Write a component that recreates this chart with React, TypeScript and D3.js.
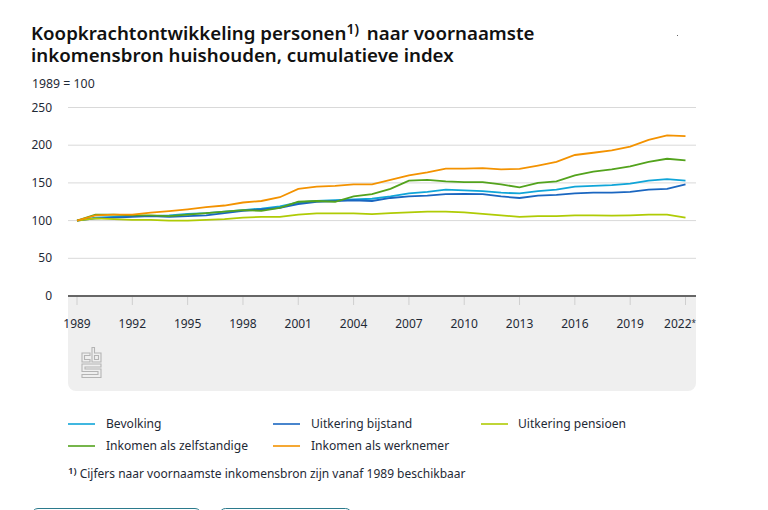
import React from "react";
import * as d3 from "d3";

const years = d3.range(1989, 2023);
const bevolking = [100,104,105,106,106,107,109,110,112,114,116,119,124,126,127,128,129,132,136,138,141,140,139,137,136,139,141,145,146,147,149,153,155,153];
const bijstand = [100,103,104,105,106,105,106,107,110,113,115,117,122,125,126,127,126,130,132,133,135,135.5,135,132,130,133,134,136,137,137,138,141,142,148];
const pensioen = [100,103,102,101,101,100,100,101,102,104,105,105,108,109.5,109.5,109.5,108.5,110,111,112,112,111,109,107,105,106,106,107,107,106.5,107,108,108,104];
const zelfstandige = [100,108,108,107,107,106,108,110,112,114,113,117,125,126,125,132,135,142,153,154,152,151,151,148,144,150,152,160,165,168,172,178,182,180];
const werknemer = [100,107,108,108,110.5,112.5,115,118,120,124,126,131,142,145,146,148,148,154,160,164,169,169,169.5,168,168.5,173,178,187,190,193,198,207,213,212];

const yTicks = [0, 50, 100, 150, 200, 250];
const xTickYears = [1989,1992,1995,1998,2001,2004,2007,2010,2013,2016,2019,2022];
const xTickLabels = ["1989","1992","1995","1998","2001","2004","2007","2010","2013","2016","2019","2022"];

const seriesList = [
  { name: "Bevolking", values: bevolking, color: "#10a5d8", lx: 68, ly: 424 },
  { name: "Uitkering bijstand", values: bijstand, color: "#1a66c0", lx: 273, ly: 424 },
  { name: "Uitkering pensioen", values: pensioen, color: "#afcb05", lx: 481, ly: 424 },
  { name: "Inkomen als zelfstandige", values: zelfstandige, color: "#53a31d", lx: 68, ly: 446 },
  { name: "Inkomen als werknemer", values: werknemer, color: "#f39200", lx: 273, ly: 446 },
];

const font = "'Noto Sans', sans-serif";
const ink = "#1f2a36";

export default function App() {
  const x = d3.scaleLinear().domain([1989, 2022]).range([77, 685.5]);
  const y = d3.scaleLinear().domain([0, 250]).range([296, 107.5]);
  const line = d3.line<number>().x((_, i) => x(years[i])).y((d) => y(d));
  const panel = "M68 296H696V383a8 8 0 0 1-8 8H76a8 8 0 0 1-8-8Z";
  const lastTick = xTickYears.length - 1;
  return (
    <svg width={768} height={510} style={{ position: "absolute", left: 0, top: 0, background: "#fff" }} fontFamily={font}>
      <text x={31} y={40} fontSize={18.7} fontWeight={600} fill="#111">
        Koopkrachtontwikkeling personen<tspan fontSize={14} dy={-6}>1)</tspan><tspan dy={6} dx={3}> naar voornaamste</tspan>
      </text>
      <text x={31} y={62} fontSize={18.7} fontWeight={600} fill="#111">inkomensbron huishouden, cumulatieve index</text>
      <text x={32} y={88} fontSize={12.3} fill={ink}>1989 = 100</text>
      <rect x={677} y={35} width={1} height={1} fill="#666" />

      <path d={panel} fill="#efefef" />
      {yTicks.filter((t) => t > 0).map((t) => (
        <line key={t} x1={68} x2={696} y1={y(t)} y2={y(t)} stroke="#d9d9d9" strokeWidth={1} />
      ))}
      {yTicks.map((t) => (
        <text key={t} x={52} y={y(t) + 4} fontSize={12} textAnchor="end" fill={ink}>{t}</text>
      ))}
      {seriesList.map((s) => (
        <path key={s.name} d={line(s.values) ?? ""} fill="none" stroke={s.color} strokeWidth={1.8} />
      ))}
      <line x1={68} x2={696} y1={y(0)} y2={y(0)} stroke="#666" strokeWidth={2} />
      {xTickYears.map((t, i) => (
        <g key={t}>
          <line x1={x(t)} x2={x(t)} y1={297} y2={305} stroke="#cfcfcf" strokeWidth={1} />
          <text x={i === lastTick ? 696 : x(t)} y={328} fontSize={12} textAnchor={i === lastTick ? "end" : "middle"} fill={ink}>
            {xTickLabels[i]}{i === lastTick ? <tspan fontSize={8} dy={-2}>*</tspan> : null}
          </text>
        </g>
      ))}

      <g fill="none" stroke="#b4b4b4" strokeWidth={1.1}>
        <path d="M90 353H82V362H90V359.5H84.5V355.5H90Z" />
        <path d="M92 347.5H94.5V353H101V362H92ZM94.5 355.5V359.5H98.5V355.5Z" />
        <path d="M101 364H82V371.5H98V374.5H82V377.5H101V369H85V367H101Z" />
      </g>

      {seriesList.map((s) => (
        <g key={s.name}>
          <line x1={s.lx} x2={s.lx + 27} y1={s.ly} y2={s.ly} stroke={s.color} strokeWidth={1.6} />
          <text x={s.lx + (s.lx === 481 ? 37 : 38)} y={s.ly + 4} fontSize={12.1} fill={ink}>{s.name}</text>
        </g>
      ))}
      <text x={68} y={478} fontSize={12} fill={ink}>
        <tspan fontSize={9.5} dy={-4} fontWeight={600}>1)</tspan><tspan dy={4}> Cijfers naar voornaamste inkomensbron zijn vanaf 1989 beschikbaar</tspan>
      </text>

      <rect x={32} y={508.5} width={169} height={20} rx={6} fill="none" stroke="#2b7a8c" strokeWidth={1} />
      <rect x={219.5} y={508.5} width={132} height={20} rx={6} fill="none" stroke="#2b7a8c" strokeWidth={1} />
    </svg>
  );
}
